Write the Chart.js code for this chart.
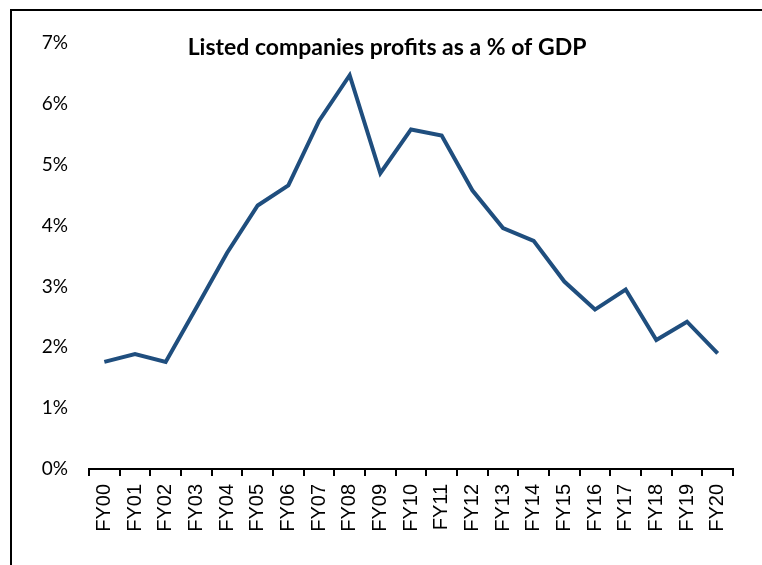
<!DOCTYPE html>
<html>
<head>
<meta charset="utf-8">
<script src="https://cdn.jsdelivr.net/npm/chart.js@4"></script>
<style>
  html, body { margin: 0; padding: 0; background: #fff; }
  #frame {
    position: absolute; left: 10px; top: 9px;
    width: 800px; height: 600px;
    border: 2px solid #000; box-sizing: border-box;
  }
  #myChart { position: absolute; left: 0; top: 0; }
</style>
</head>
<body>
<div id="frame"></div>
<canvas id="myChart" width="762" height="565"></canvas>
<script>
// Chart data.
const chartTitle = 'Listed companies profits as a % of GDP';
const years = ['FY00', 'FY01', 'FY02', 'FY03', 'FY04', 'FY05', 'FY06', 'FY07', 'FY08', 'FY09', 'FY10',
               'FY11', 'FY12', 'FY13', 'FY14', 'FY15', 'FY16', 'FY17', 'FY18', 'FY19', 'FY20'];
const profitsPctGdp = [1.76, 1.89, 1.76, 2.65, 3.55, 4.33, 4.66, 5.72, 6.47, 4.86, 5.58,
                       5.48, 4.58, 3.96, 3.75, 3.08, 2.62, 2.95, 2.12, 2.42, 1.90];
const yMin = 0;
const yMax = 7;

// Title drawn inside the plot, like the source.
const titlePlugin = {
    id: 'innerTitle',
    afterDraw(chart) {
        const c = chart.ctx;
        c.save();
        c.font = 'bold 23px Lato';
        c.fillStyle = '#000';
        c.textAlign = 'center';
        c.textBaseline = 'alphabetic';
        c.fillText(chartTitle, 387, 55);
        c.restore();
    }
};

document.addEventListener('DOMContentLoaded', () => {
    const ctx = document.getElementById('myChart').getContext('2d');

    new Chart(ctx, {
        type: 'line',
        data: {
            labels: years,
            datasets: [{
                label: chartTitle,
                data: profitsPctGdp,
                borderColor: '#1f4e7e',
                borderWidth: 4,
                pointRadius: 0,
                tension: 0,
                fill: false,
            }]
        },
        options: {
            responsive: false,
            animation: false,
            layout: { padding: { left: 0, top: 43, right: 29, bottom: 0 } },
            plugins: {
                legend: { display: false },
                title: { display: false },
                tooltip: { enabled: false }
            },
            scales: {
                x: {
                    offset: true,
                    border: { display: true, color: '#000', width: 2 },
                    grid: {
                        offset: true,
                        drawOnChartArea: false,
                        drawTicks: true,
                        tickLength: 7,
                        color: '#000',
                        lineWidth: 2
                    },
                    ticks: {
                        autoSkip: false,
                        minRotation: 90,
                        maxRotation: 90,
                        padding: 8,
                        color: '#000',
                        font: { family: 'Liberation Sans', size: 20 }
                    },
                    afterFit(scale) { scale.height = 96; }
                },
                y: {
                    min: yMin,
                    max: yMax,
                    border: { display: false },
                    grid: { display: false, drawTicks: false },
                    ticks: {
                        stepSize: 1,
                        padding: 21,
                        color: '#000',
                        font: { family: 'Lato', size: 19 },
                        callback: (v) => v + '%'
                    },
                    afterFit(scale) { scale.width = 89; }
                }
            }
        },
        plugins: [titlePlugin]
    });
});
</script>
</body>
</html>
